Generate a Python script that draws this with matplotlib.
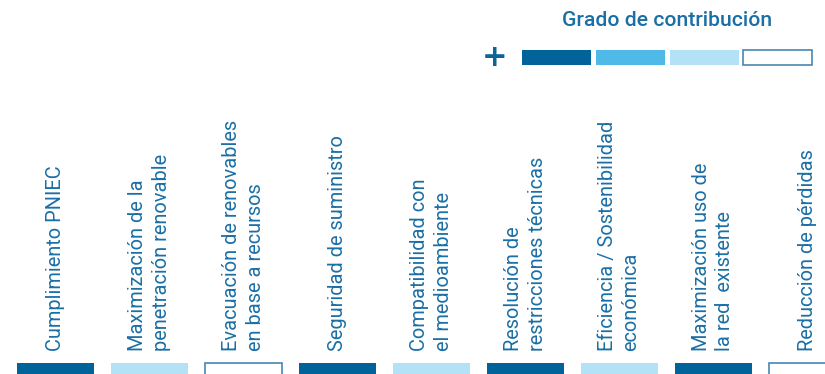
import matplotlib.pyplot as plt
import numpy as np

criteria = [
    "Cumplimiento PNIEC",
    "Maximización de la\npenetración renovable",
    "Evacuación de renovables\nen base a recursos",
    "Seguridad de suministro",
    "Compatibilidad con\nel medioambiente",
    "Resolución de\nrestricciones técnicas",
    "Eficiencia / Sostenibilidad\neconómica",
    "Maximización uso de\nla red  existente",
    "Reducción de pérdidas",
]
# grado de contribución: 4 = máximo ... 1 = mínimo
contribution = [4, 2, 1, 4, 2, 4, 2, 4, 1]
legend_levels = [4, 3, 2, 1]
legend_title = "Grado de contribución"

level_colors = {4: "#00649a", 3: "#4fb9e8", 2: "#b3e1f5", 1: "#ffffff"}
border_color = "#4a86b0"
text_color = "#1a6fa6"

plt.rcParams['font.family'] = ['Roboto', 'DejaVu Sans']

fig = plt.figure(figsize=(8.25, 3.74), dpi=100)

# main strip of criteria
ax = fig.add_axes([0, 0, 1, 1])
x = np.arange(len(criteria))
ax.set_xlim(-0.59, 8.19)
ax.set_ylim(0, 374)
ax.axis('off')

colors = [level_colors[c] for c in contribution]
edges = [border_color if c == 1 else 'none' for c in contribution]
ax.bar(x, 20, bottom=-9, width=0.82, color=colors, edgecolor=edges, linewidth=1.2)

for i, label in enumerate(criteria):
    ax.text(i, 23, label, rotation=90, ha='center', va='bottom',
            multialignment='left', fontsize=14.4, linespacing=1.3,
            color=text_color)

# legend
lax = fig.add_axes([480 / 825, 1 - 80 / 374, 345 / 825, 80 / 374])
lax.set_xlim(-1.037, 3.638)
lax.set_ylim(0, 80)
lax.axis('off')
lx = np.arange(len(legend_levels))
lcolors = [level_colors[c] for c in legend_levels]
ledges = [border_color if c == 1 else 'none' for c in legend_levels]
lax.bar(lx, 15, bottom=15, width=0.935, color=lcolors, edgecolor=ledges, linewidth=1.2)
lax.text(-0.833, 23, "+", ha='center', va='center', fontsize=22,
         fontweight='heavy', color="#0f6496", family='DejaVu Sans')
lax.text(1.5, 60, legend_title, ha='center', va='center', fontsize=15.2,
         color=text_color, fontweight='medium')

fig.savefig("out.png", dpi=100)
